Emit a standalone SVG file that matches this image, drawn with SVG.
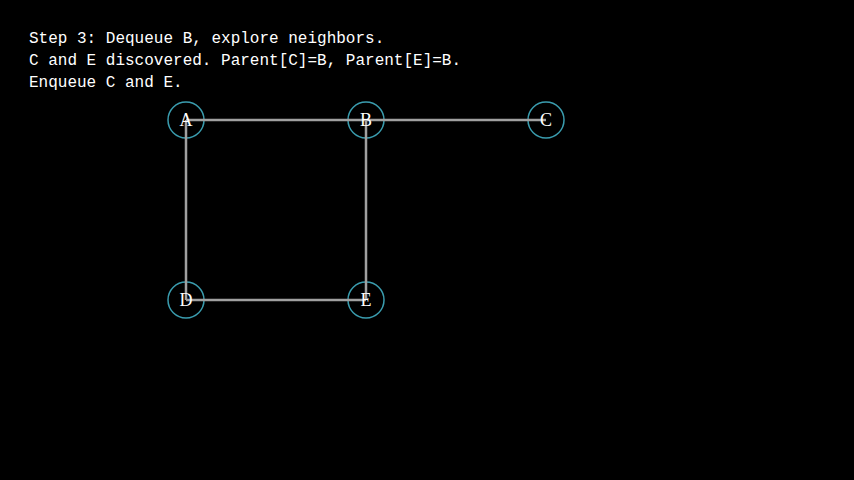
<svg xmlns="http://www.w3.org/2000/svg" width="854" height="480" viewBox="0 0 854 480">
<style>
.edge{stroke:#a0a0a0;stroke-width:2.5;fill:none}
.node circle{fill:none;stroke:#3a9cae;stroke-width:1.5}
.node text{fill:#ffffff;font-family:"Liberation Serif","DejaVu Serif",serif;font-size:18px;text-anchor:middle}
.cap{fill:#ffffff;font-family:"Liberation Mono","DejaVu Sans Mono",monospace;font-size:16px}
</style>
<rect width="854" height="480" fill="#000000"/>
<g id="caption">
<text class="cap" x="29" y="43">Step 3: Dequeue B, explore neighbors.</text>
<text class="cap" x="29" y="65">C and E discovered. Parent[C]=B, Parent[E]=B.</text>
<text class="cap" x="29" y="87">Enqueue C and E.</text>
</g>
<g id="node-A" class="node"><circle cx="186" cy="120" r="18"/></g>
<g id="node-B" class="node"><circle cx="366" cy="120" r="18"/></g>
<g id="node-C" class="node"><circle cx="546" cy="120" r="18"/></g>
<g id="node-D" class="node"><circle cx="186" cy="300" r="18"/></g>
<g id="node-E" class="node"><circle cx="366" cy="300" r="18"/></g>
<g id="edges">
<line class="edge" x1="186" y1="120" x2="366" y2="120"/>
<line class="edge" x1="366" y1="120" x2="546" y2="120"/>
<line class="edge" x1="186" y1="120" x2="186" y2="300"/>
<line class="edge" x1="366" y1="120" x2="366" y2="300"/>
<line class="edge" x1="186" y1="300" x2="366" y2="300"/>
</g>
<g id="labels" class="node">
<text x="186" y="126">A</text>
<text x="366" y="126">B</text>
<text x="546" y="126">C</text>
<text x="186" y="306">D</text>
<text x="366" y="306">E</text>
</g>
</svg>
